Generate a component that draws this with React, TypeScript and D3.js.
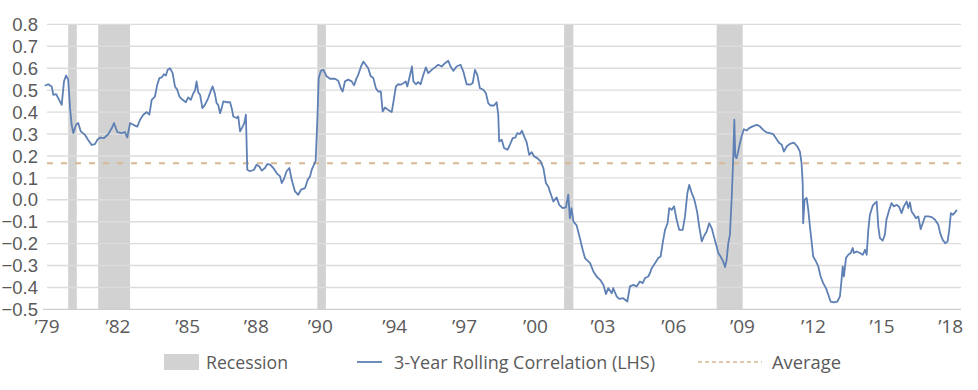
import React from "react";
import * as d3 from "d3";

// ---------- DATA ----------
const yTicks = [0.8, 0.7, 0.6, 0.5, 0.4, 0.3, 0.2, 0.1, 0.0, -0.1, -0.2, -0.3, -0.4, -0.5];

const xTickPositions = [1979.1, 1982.15, 1985.15, 1988.1, 1990.85, 1994.05, 1997.05, 2000.1, 2003.0, 2006.05, 2009.0, 2012.05, 2015.0, 2017.95];
const xTickLabels = ["\u201979", "\u201982", "\u201985", "\u201988", "\u201990", "\u201994", "\u201997", "\u201900", "\u201903", "\u201906", "\u201909", "\u201912", "\u201915", "\u201918"];

const recessions: [number, number][] = [
  [1980.01, 1980.38],
  [1981.3, 1982.67],
  [1990.72, 1991.09],
  [2001.33, 2001.73],
  [2007.89, 2009.01],
];

const averageValue = 0.167;

const correlation1979: [number, number][] = [
  [1979.0, 0.52], [1979.15, 0.527], [1979.3, 0.517], [1979.37, 0.479], [1979.49, 0.482],
  [1979.58, 0.464], [1979.73, 0.433], [1979.83, 0.54], [1979.92, 0.567], [1980.01, 0.548],
  [1980.09, 0.418], [1980.16, 0.342], [1980.23, 0.304], [1980.35, 0.342], [1980.44, 0.35],
  [1980.55, 0.312], [1980.73, 0.297], [1980.87, 0.273], [1981.02, 0.25], [1981.16, 0.254],
  [1981.26, 0.273], [1981.38, 0.284], [1981.55, 0.281], [1981.73, 0.299], [1981.88, 0.326],
  [1981.98, 0.35], [1982.12, 0.309], [1982.31, 0.304], [1982.45, 0.309], [1982.55, 0.284],
  [1982.67, 0.35], [1982.81, 0.342], [1982.98, 0.334], [1983.1, 0.365], [1983.24, 0.388],
  [1983.39, 0.4], [1983.5, 0.388], [1983.6, 0.456], [1983.74, 0.471], [1983.84, 0.525],
  [1983.93, 0.555], [1984.03, 0.558], [1984.13, 0.573], [1984.21, 0.567], [1984.29, 0.593],
  [1984.39, 0.6], [1984.5, 0.578], [1984.6, 0.517], [1984.7, 0.502], [1984.79, 0.471],
  [1984.93, 0.456], [1985.07, 0.445], [1985.17, 0.467], [1985.28, 0.456], [1985.39, 0.486],
  [1985.46, 0.497], [1985.53, 0.54], [1985.6, 0.49], [1985.68, 0.479], [1985.78, 0.418],
  [1985.89, 0.433], [1986.03, 0.464], [1986.14, 0.497], [1986.22, 0.517], [1986.32, 0.482],
  [1986.39, 0.441], [1986.46, 0.433], [1986.54, 0.395], [1986.61, 0.418], [1986.68, 0.449],
  [1986.82, 0.445], [1986.97, 0.445], [1987.04, 0.418], [1987.11, 0.38], [1987.25, 0.373],
  [1987.32, 0.38], [1987.4, 0.312], [1987.51, 0.334], [1987.58, 0.35], [1987.65, 0.388],
  [1987.71, 0.137], [1987.83, 0.13], [1988.0, 0.137], [1988.11, 0.16], [1988.23, 0.152],
  [1988.33, 0.133], [1988.47, 0.145], [1988.57, 0.163], [1988.69, 0.16], [1988.83, 0.145],
  [1988.97, 0.122], [1989.12, 0.107], [1989.19, 0.076], [1989.29, 0.096], [1989.4, 0.13],
  [1989.52, 0.145], [1989.62, 0.091], [1989.76, 0.038], [1989.9, 0.023], [1990.02, 0.046],
  [1990.19, 0.053], [1990.31, 0.091], [1990.41, 0.107], [1990.48, 0.137], [1990.58, 0.16],
  [1990.65, 0.178], [1990.72, 0.357], [1990.78, 0.555], [1990.87, 0.588], [1990.98, 0.593],
];

const correlation1991: [number, number][] = [
  [1991.12, 0.563], [1991.27, 0.552], [1991.48, 0.552], [1991.62, 0.543], [1991.73, 0.509],
  [1991.81, 0.494], [1991.91, 0.54], [1992.05, 0.548], [1992.2, 0.54], [1992.3, 0.522],
  [1992.41, 0.555], [1992.48, 0.57], [1992.6, 0.608], [1992.7, 0.63], [1992.81, 0.615],
  [1992.91, 0.6], [1993.02, 0.563], [1993.13, 0.555], [1993.24, 0.509], [1993.34, 0.494],
  [1993.45, 0.494], [1993.53, 0.403], [1993.63, 0.421], [1993.77, 0.41], [1993.92, 0.4],
  [1994.02, 0.464], [1994.1, 0.517], [1994.2, 0.527], [1994.31, 0.525], [1994.42, 0.532],
  [1994.52, 0.54], [1994.59, 0.517], [1994.71, 0.57], [1994.79, 0.608], [1994.85, 0.54],
  [1994.96, 0.527], [1995.06, 0.537], [1995.16, 0.527], [1995.28, 0.57], [1995.39, 0.604],
  [1995.49, 0.578], [1995.64, 0.593], [1995.78, 0.604], [1995.92, 0.616], [1996.07, 0.608],
  [1996.21, 0.623], [1996.35, 0.634], [1996.45, 0.608], [1996.57, 0.588], [1996.71, 0.608],
  [1996.88, 0.616], [1997.0, 0.585], [1997.14, 0.527], [1997.28, 0.525], [1997.4, 0.532],
  [1997.5, 0.593], [1997.6, 0.57], [1997.71, 0.509], [1997.86, 0.502], [1997.97, 0.486],
  [1998.07, 0.441], [1998.17, 0.43], [1998.32, 0.43], [1998.43, 0.445], [1998.5, 0.388],
  [1998.54, 0.266], [1998.65, 0.274], [1998.75, 0.236], [1998.89, 0.228], [1998.97, 0.243],
  [1999.12, 0.281], [1999.23, 0.284], [1999.32, 0.304], [1999.43, 0.3], [1999.52, 0.315],
  [1999.61, 0.289], [1999.72, 0.263], [1999.83, 0.205], [1999.94, 0.217], [2000.04, 0.198],
  [2000.18, 0.19], [2000.32, 0.175], [2000.44, 0.145], [2000.55, 0.076], [2000.65, 0.061],
  [2000.72, 0.038], [2000.87, -0.008], [2001.01, 0.011], [2001.12, -0.023], [2001.27, -0.038],
  [2001.41, -0.035], [2001.51, 0.023], [2001.58, -0.084], [2001.65, -0.038], [2001.73, -0.099],
  [2001.87, -0.117], [2002.01, -0.175], [2002.13, -0.228], [2002.23, -0.266], [2002.3, -0.274],
  [2002.45, -0.289], [2002.59, -0.327], [2002.73, -0.35], [2002.88, -0.365], [2003.02, -0.388],
  [2003.13, -0.43], [2003.23, -0.403], [2003.38, -0.426], [2003.44, -0.403], [2003.59, -0.441],
  [2003.7, -0.452],
];

const correlation2004: [number, number][] = [
  [2003.87, -0.449], [2004.05, -0.464], [2004.16, -0.395], [2004.31, -0.388], [2004.45, -0.395],
  [2004.59, -0.373], [2004.71, -0.38], [2004.81, -0.357], [2004.95, -0.35], [2005.02, -0.335],
  [2005.1, -0.312], [2005.24, -0.289], [2005.38, -0.266], [2005.48, -0.259], [2005.57, -0.198],
  [2005.67, -0.137], [2005.78, -0.107], [2005.85, -0.038], [2005.96, -0.046], [2006.06, -0.03],
  [2006.17, -0.091], [2006.28, -0.137], [2006.43, -0.137], [2006.53, -0.076], [2006.63, 0.03],
  [2006.71, 0.068], [2006.82, 0.03], [2006.91, 0.008], [2007.0, -0.03], [2007.06, -0.061],
  [2007.14, -0.122], [2007.25, -0.19], [2007.34, -0.167], [2007.46, -0.145], [2007.57, -0.107],
  [2007.68, -0.13], [2007.77, -0.167], [2007.89, -0.213], [2007.96, -0.243], [2008.06, -0.259],
  [2008.17, -0.281], [2008.25, -0.307], [2008.32, -0.274], [2008.39, -0.198], [2008.46, -0.16],
  [2008.54, 0.015], [2008.6, 0.182], [2008.65, 0.365], [2008.69, 0.198], [2008.75, 0.19],
  [2008.86, 0.243], [2008.96, 0.289], [2009.06, 0.322], [2009.18, 0.316], [2009.29, 0.327],
  [2009.44, 0.335], [2009.61, 0.342], [2009.75, 0.335], [2009.89, 0.319], [2010.04, 0.307],
  [2010.18, 0.304], [2010.32, 0.3], [2010.44, 0.281], [2010.58, 0.259], [2010.69, 0.251],
  [2010.78, 0.22], [2010.9, 0.243], [2011.04, 0.255], [2011.21, 0.261], [2011.36, 0.243],
  [2011.47, 0.22], [2011.54, 0.167], [2011.59, 0.076], [2011.61, -0.107], [2011.67, 0.0],
  [2011.76, 0.008], [2011.83, -0.046], [2011.9, -0.122], [2011.98, -0.198], [2012.04, -0.259],
  [2012.16, -0.281], [2012.26, -0.304], [2012.36, -0.35], [2012.47, -0.38], [2012.59, -0.403],
  [2012.69, -0.433], [2012.79, -0.464], [2012.94, -0.468], [2013.08, -0.464], [2013.19, -0.441],
  [2013.26, -0.365], [2013.31, -0.304], [2013.36, -0.35], [2013.45, -0.266], [2013.55, -0.251],
  [2013.65, -0.243], [2013.74, -0.22], [2013.79, -0.243], [2013.91, -0.236], [2014.05, -0.243],
  [2014.17, -0.251], [2014.27, -0.228], [2014.34, -0.251], [2014.41, -0.137], [2014.48, -0.068],
  [2014.6, -0.027], [2014.7, -0.015], [2014.77, -0.008], [2014.84, -0.122], [2014.91, -0.175],
  [2015.03, -0.186], [2015.12, -0.16], [2015.19, -0.091], [2015.31, -0.046], [2015.41, -0.015],
  [2015.51, -0.03], [2015.63, -0.023], [2015.74, -0.033], [2015.84, -0.061], [2015.94, -0.03],
  [2016.06, -0.008], [2016.13, -0.038], [2016.2, -0.012], [2016.27, -0.053], [2016.37, -0.068],
  [2016.46, -0.084], [2016.56, -0.076], [2016.66, -0.134], [2016.75, -0.107], [2016.85, -0.076],
  [2016.99, -0.076], [2017.14, -0.079], [2017.28, -0.091], [2017.42, -0.114], [2017.5, -0.152],
  [2017.61, -0.183], [2017.72, -0.198], [2017.82, -0.19], [2017.89, -0.137], [2017.96, -0.061],
  [2018.05, -0.068], [2018.15, -0.056], [2018.22, -0.046],
];

const legendItems = ["Recession", "3-Year Rolling Correlation (LHS)", "Average"];

// ---------- CHART ----------
const W = 978;
const H = 390;
const textColor = "#5a5a5a";
const lineColor = "#5f80b4";
const recessionColor = "#d2d2d2";
const gridColor = "#dcdcdc";
const avgColor = "#d8b894";
const labelFont = "'Open Sans', 'Liberation Sans', sans-serif";
const yLabelFont = "'Liberation Sans', Arial, sans-serif";

export default function App() {
  const x = d3.scaleLinear().domain([1979, 2018]).range([44.7, 951.8]);
  const y = d3.scaleLinear().domain([-0.5, 0.8]).range([309.4, 24.4]);
  const gridX0 = 47;
  const gridX1 = 961;

  const data = [...correlation1979, ...correlation1991, ...correlation2004];
  const line = d3
    .line<[number, number]>()
    .x((d) => x(d[0]))
    .y((d) => y(d[1]));

  return (
    <svg
      width={W}
      height={H}
      viewBox={`0 0 ${W} ${H}`}
      style={{ position: "absolute", left: 0, top: 0, background: "#fff" }}
    >
      <rect x={0} y={0} width={W} height={H} fill="#fff" />
      {/* recession bars */}
      {recessions.map(([a, b], i) => (
        <rect
          key={"r" + i}
          x={x(a)}
          y={y(0.8)}
          width={x(b) - x(a)}
          height={y(-0.5) - y(0.8)}
          fill={recessionColor}
        />
      ))}
      {/* gridlines */}
      {yTicks.map((t) => (
        <line
          key={"g" + t}
          x1={t === -0.5 ? 43 : gridX0}
          x2={gridX1}
          y1={y(t)}
          y2={y(t)}
          stroke={t === -0.5 ? "#cfcfcf" : gridColor}
          strokeWidth={1.4}
        />
      ))}
      {/* y labels */}
      {yTicks.map((t) => (
        <text
          key={"yl" + t}
          x={38}
          y={y(t)}
          dy="0.36em"
          textAnchor="end"
          fontFamily={yLabelFont}
          fontSize={18.5}
          fill={textColor}
        >
          {d3.format(".1f")(t)}
        </text>
      ))}
      {/* average line */}
      <line
        x1={gridX0}
        x2={gridX1}
        y1={y(averageValue)}
        y2={y(averageValue)}
        stroke={avgColor}
        strokeWidth={2}
        strokeDasharray="6 8"
      />
      {/* series */}
      <path d={line(data) || ""} fill="none" stroke={lineColor} strokeWidth={1.8} strokeLinejoin="round" />
      {/* x labels */}
      {xTickPositions.map((p, i) => (
        <text
          key={"xl" + i}
          x={x(p)}
          y={333}
          textAnchor="middle"
          fontFamily={labelFont}
          fontSize={19}
          fill={textColor}
          textLength={25}
          lengthAdjust="spacingAndGlyphs"
        >
          {xTickLabels[i]}
        </text>
      ))}
      {/* legend */}
      <g>
        <rect x={164} y={354} width={35} height={16} fill={recessionColor} />
        <text x={206} y={369} fontFamily={labelFont} fontSize={19} fill={textColor} textLength={82} lengthAdjust="spacingAndGlyphs">
          {legendItems[0]}
        </text>
        <line x1={357} x2={382} y1={362} y2={362} stroke={lineColor} strokeWidth={1.8} />
        <text x={394} y={369} fontFamily={labelFont} fontSize={19} fill={textColor} textLength={261} lengthAdjust="spacingAndGlyphs">
          {legendItems[1]}
        </text>
        <line x1={698} x2={762} y1={362} y2={362} stroke={avgColor} strokeWidth={1.6} strokeDasharray="4 3" />
        <text x={772} y={369} fontFamily={labelFont} fontSize={19} fill={textColor} textLength={69} lengthAdjust="spacingAndGlyphs">
          {legendItems[2]}
        </text>
      </g>
    </svg>
  );
}
